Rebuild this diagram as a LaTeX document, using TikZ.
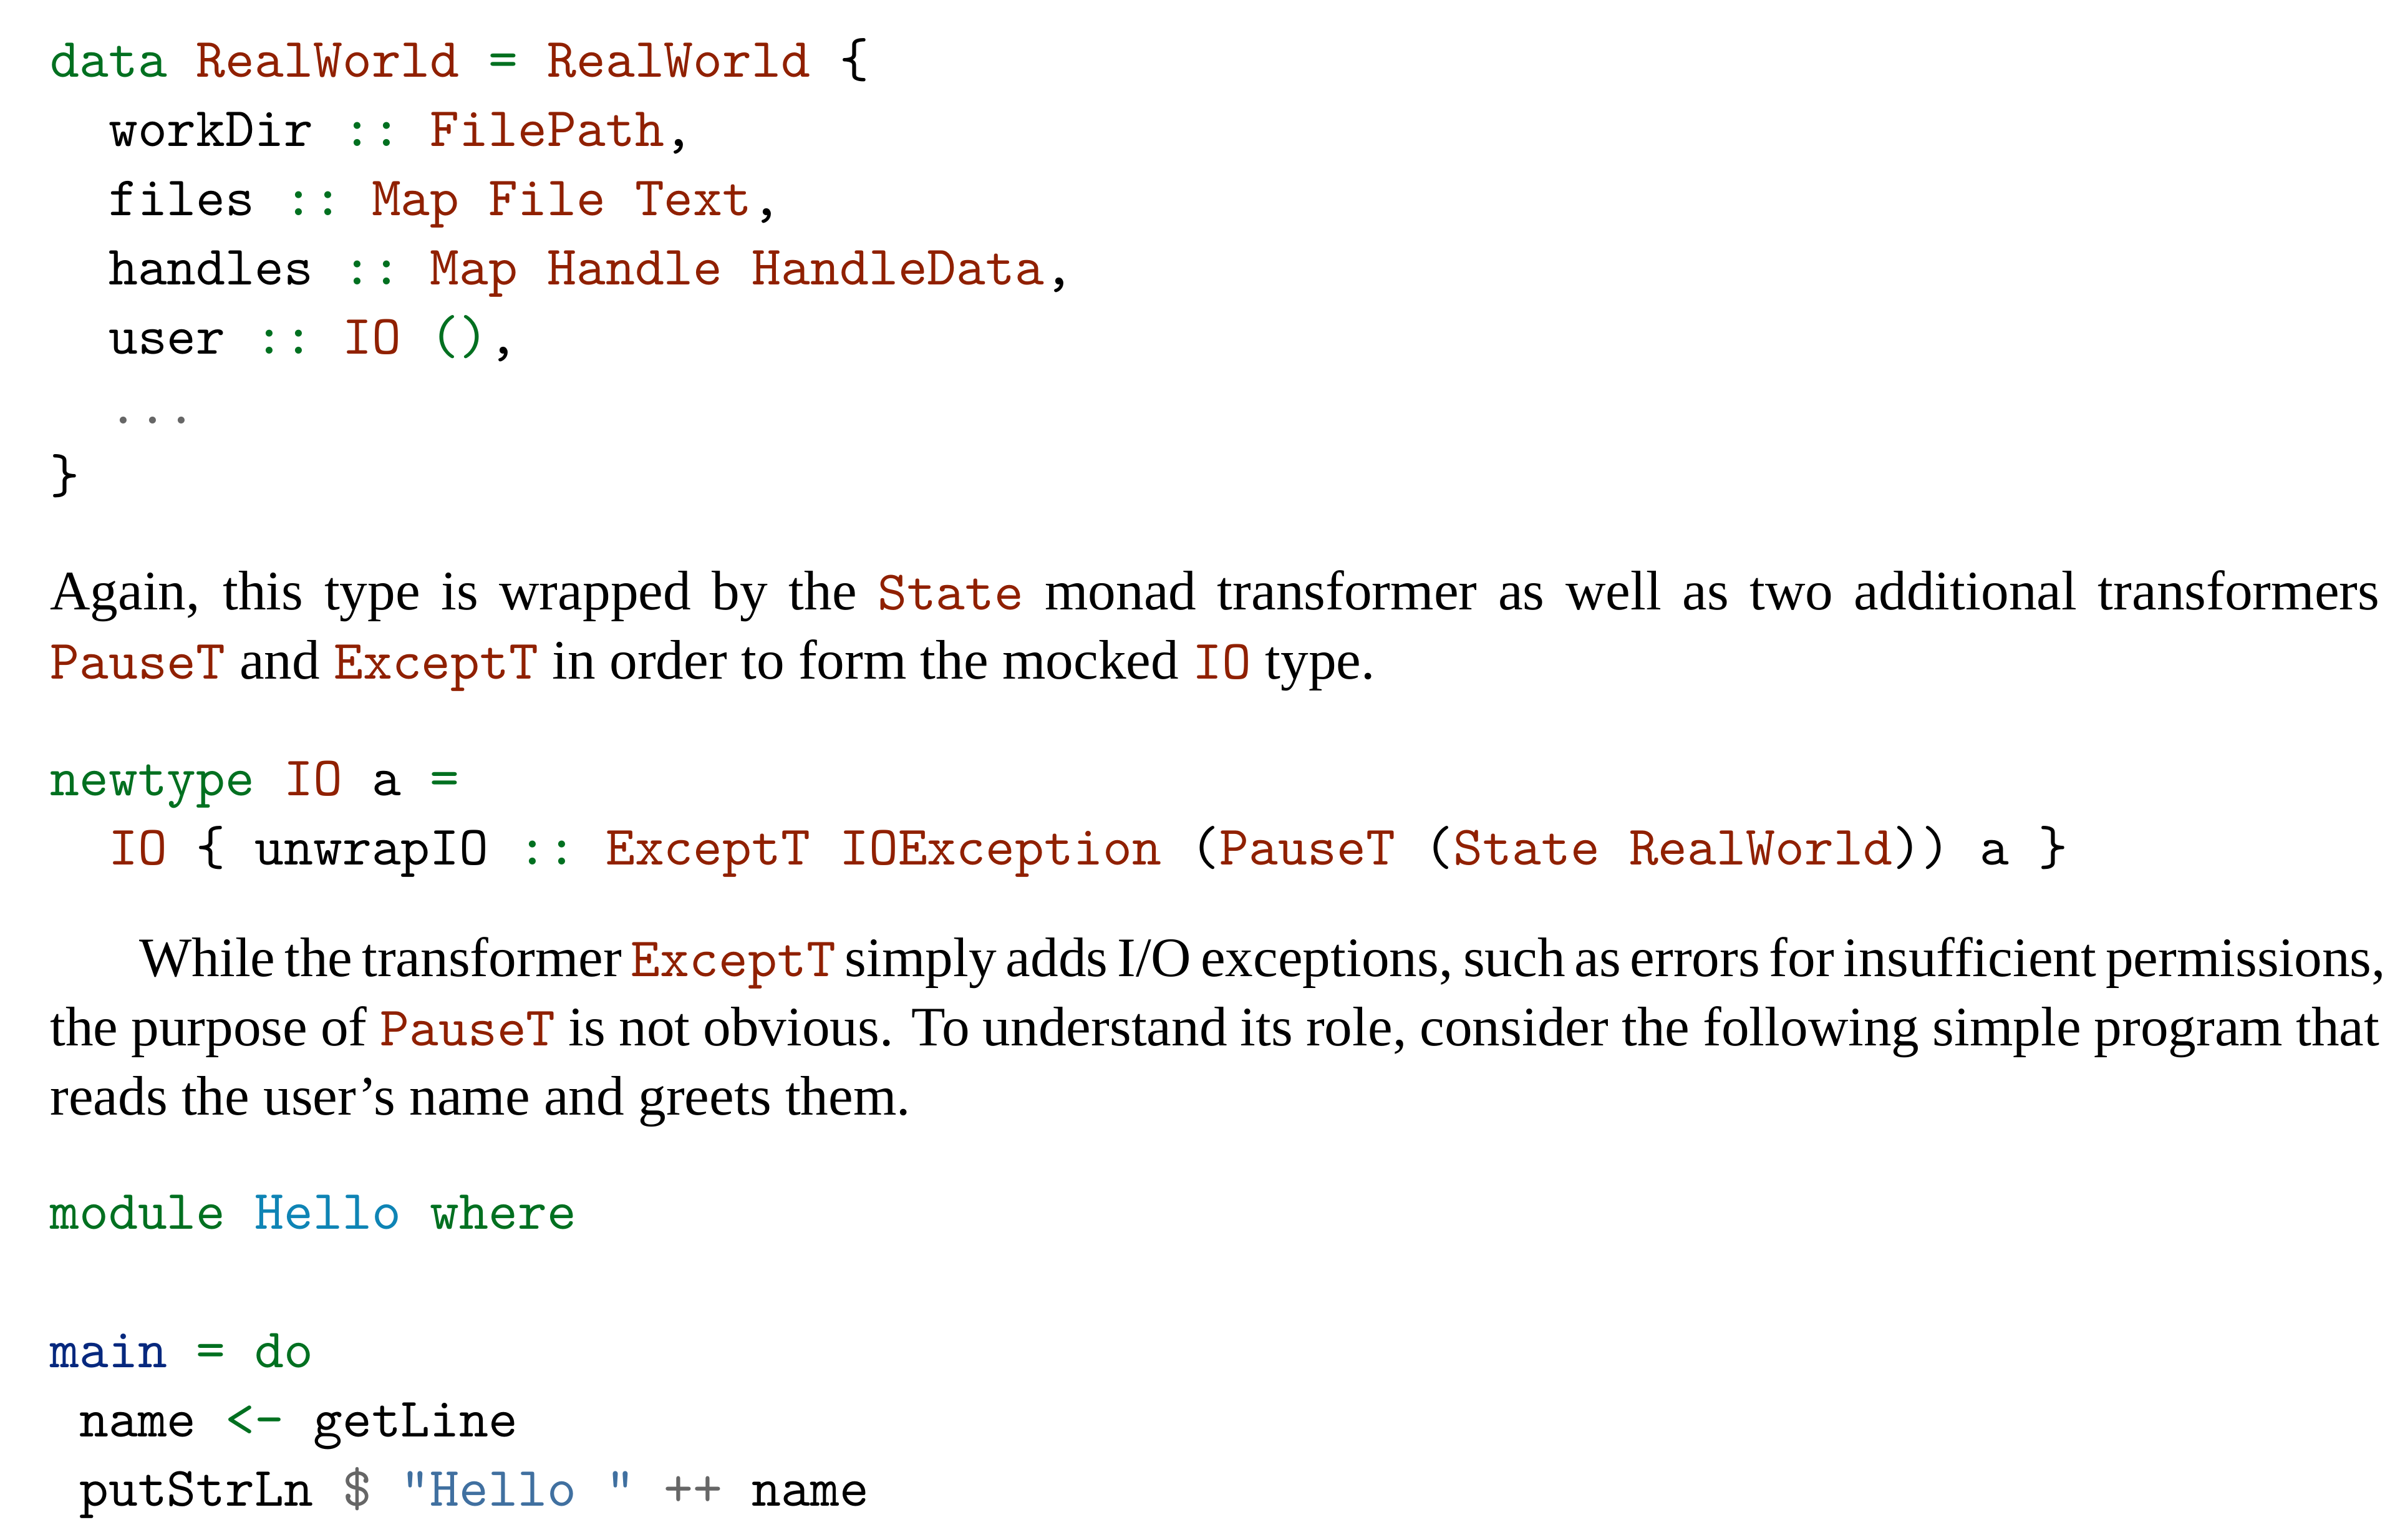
\documentclass[tikz,border=0pt]{standalone}
\usepackage{fontspec}
\setmainfont{Liberation Serif}
\usepackage{xcolor}

\definecolor{kwgreen}{HTML}{007020}
\definecolor{tyred}{HTML}{902000}
\definecolor{nsblue}{HTML}{0E84B5}
\definecolor{fnblue}{HTML}{06287E}
\definecolor{strblue}{HTML}{4070A0}
\definecolor{opgray}{HTML}{666666}

\newcommand{\kw}[1]{\textcolor{kwgreen}{#1}}
\newcommand{\ty}[1]{\textcolor{tyred}{#1}}
\newcommand{\ns}[1]{\textcolor{nsblue}{#1}}
\newcommand{\fn}[1]{\textcolor{fnblue}{#1}}
\newcommand{\str}[1]{\textcolor{strblue}{#1}}
\newcommand{\op}[1]{\textcolor{opgray}{#1}}
\newcommand{\ic}[1]{\texttt{\textcolor{tyred}{#1}}}
\newcommand{\jline}[2][418.2pt]{\makebox[#1][s]{#2}}

\begin{document}
\begin{tikzpicture}[x=1pt, y=-1pt,
    code/.style={anchor=base west, inner sep=0pt, font=\fontsize{10}{12}\ttfamily\frenchspacing},
    prose/.style={anchor=base west, inner sep=0pt, font=\fontsize{10}{12}\selectfont}]
    % 背景
    \fill[white] (0,0) rectangle (430,276.36);

    % data RealWorld
    \node[code] (data) at (8.8,13.8) {\kw{data} \ty{RealWorld} \kw{=} \ty{RealWorld} \{};
    \node[code] (workdir) at (19.3,26.25) {workDir \kw{::} \ty{FilePath},};
    \node[code] (files) at (19.3,38.7) {files \kw{::} \ty{Map} \ty{File} \ty{Text},};
    \node[code] (handles) at (19.3,51.15) {handles \kw{::} \ty{Map} \ty{Handle} \ty{HandleData},};
    \node[code] (user) at (19.3,63.6) {user \kw{::} \ty{IO} \kw{()},};
    \node[code] (dots) at (19.3,76.05) {\op{...}};
    \node[code] (close) at (8.8,88.5) {\}};

    % 本文 1
    \node[prose] (again) at (8.8,109.4) {\jline{Again, this type is wrapped by the \ic{State} monad transformer as well as two additional transformers}};
    \node[prose] (mocked) at (8.8,121.85) {\ic{PauseT} and \ic{ExceptT} in order to form the mocked \ic{IO} type.};

    % newtype IO
    \node[code] (newtype) at (8.8,142.8) {\kw{newtype} \ty{IO} a \kw{=}};
    \node[code] (unwrap) at (19.3,155.25) {\ty{IO} \{ unwrapIO \kw{::} \ty{ExceptT} \ty{IOException} (\ty{PauseT} (\ty{State} \ty{RealWorld})) a \}};

    % 本文 2
    \node[prose] (while) at (24.8,175.3) {\jline[402.2pt]{While the transformer \ic{ExceptT} simply adds I/O exceptions, such as errors for insufficient permissions,}};
    \node[prose] (purpose) at (8.8,187.75) {\jline{the purpose of \ic{PauseT} is not obvious. To understand its role, consider the following simple program that}};
    \node[prose] (reads) at (8.8,200.2) {reads the user's name and greets them.};

    % module Hello
    \node[code] (module) at (8.8,220.6) {\kw{module} \ns{Hello} \kw{where}};
    \node[code] (main) at (8.8,245.5) {\fn{main} \kw{=} \kw{do}};
    \node[code] (getline) at (14.05,257.95) {name \kw{<-} getLine};
    \node[code] (putstr) at (14.05,270.4) {putStrLn \op{\$} \str{"Hello "} \op{++} name};
\end{tikzpicture}
\end{document}
